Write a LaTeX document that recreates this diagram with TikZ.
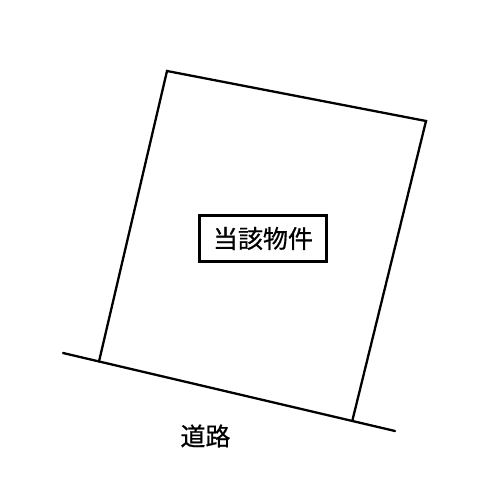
\documentclass[tikz,border=0pt]{standalone}
\usepackage{fontspec}
\newfontfamily\jp[FakeBold=0.6]{Noto Sans CJK JP}
\begin{document}
\begin{tikzpicture}[x=1pt,y=-1pt,
  edge/.style={line width=2.3pt,line cap=round,line join=miter},
  labelbox/.style={draw,line width=2.6pt,minimum width=127pt,minimum height=46pt,inner sep=0pt,font=\jp\fontsize{25}{25}\selectfont},
  plain/.style={font=\jp\fontsize{25}{25}\selectfont,inner sep=0pt}]
\useasboundingbox (0,0) rectangle (500,492);
\coordinate (tl) at (167,71);
\coordinate (tr) at (426,121);
\coordinate (br) at (352.5,420);
\coordinate (bl) at (99,361.5);
\coordinate (rs) at (63,353);
\coordinate (re) at (395,431);
\draw[edge] (bl) -- (tl) -- (tr) -- (br);
\draw[edge] (rs) -- (re);
\node[labelbox] (lab) at (263,238.5) {当該物件};
\node[plain] (road) at (205.5,436) {道路};
\end{tikzpicture}
\end{document}
